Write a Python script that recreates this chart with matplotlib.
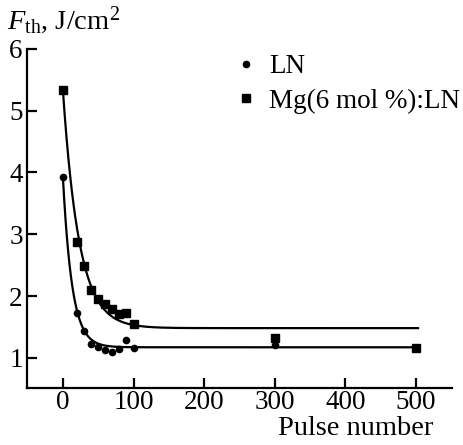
import numpy as np
import matplotlib
matplotlib.use("Agg")
import matplotlib.pyplot as plt
from matplotlib.lines import Line2D

plt.rcParams['font.family'] = ['Liberation Serif', 'DejaVu Serif']
plt.rcParams['mathtext.fontset'] = 'custom'
plt.rcParams['mathtext.rm'] = 'Liberation Serif'
plt.rcParams['mathtext.it'] = 'Liberation Serif:italic'

# Data
ln_x = [0, 20, 30, 40, 50, 60, 70, 80, 90, 100, 300]
ln_y = [3.92, 1.73, 1.44, 1.23, 1.18, 1.13, 1.10, 1.15, 1.29, 1.16, 1.21]
mg_x = [0, 20, 30, 40, 50, 60, 70, 80, 90, 100, 300, 500]
mg_y = [5.33, 2.88, 2.49, 2.10, 1.95, 1.87, 1.79, 1.71, 1.73, 1.55, 1.32, 1.16]

# exponential-decay fit parameters (y0, A, tau) estimated from the curves
ln_fit = (1.17, 2.75, 13.0)
mg_fit = (1.48, 3.85, 23.0)
fit_range = (0, 503)

x_ticks = [0, 100, 200, 300, 400, 500]
y_ticks = [1, 2, 3, 4, 5, 6]

fig = plt.figure(figsize=(4.64, 4.45), dpi=100)
ax = fig.add_axes([0.058, 0.128, 0.916, 0.762])

xf = np.linspace(fit_range[0], fit_range[1], 800)
for (y0, A, tau) in (ln_fit, mg_fit):
    ax.plot(xf, y0 + A * np.exp(-xf / tau), color='black', lw=1.6)

ax.plot(ln_x, ln_y, 'o', color='black', ms=4.5, ls='none')
ax.plot(mg_x, mg_y, 's', color='black', ms=5.6, ls='none')

ax.set_xlim(-51, 551)
ax.set_ylim(0.51, 6)
ax.set_xticks(x_ticks)
ax.set_yticks(y_ticks)
for s in ('top', 'right'):
    ax.spines[s].set_visible(False)
for s in ('left', 'bottom'):
    ax.spines[s].set_linewidth(1.6)
ax.tick_params(direction='in', length=7, width=1.6, labelsize=19.5)
ax.tick_params(axis='x', pad=1.5)
ax.tick_params(axis='y', pad=3)

fig.text(0.935, 0.0225, 'Pulse number', ha='right', va='baseline', fontsize=20.5)
fig.text(0.015, 0.92, r'$F_{\rm th}$, J/cm$^2$', ha='left', va='bottom', fontsize=20.5)

handles = [Line2D([], [], marker='o', color='black', ls='none', ms=4.5),
           Line2D([], [], marker='s', color='black', ls='none', ms=5.6)]
ax.legend(handles, ['LN', 'Mg(6 mol %):LN'], loc='upper left',
          bbox_to_anchor=(0.49, 0.985), frameon=False, fontsize=19.5,
          handlelength=0.8, handletextpad=0.45, labelspacing=0.35,
          borderaxespad=0, borderpad=0)

fig.savefig('out.png', dpi=100)
